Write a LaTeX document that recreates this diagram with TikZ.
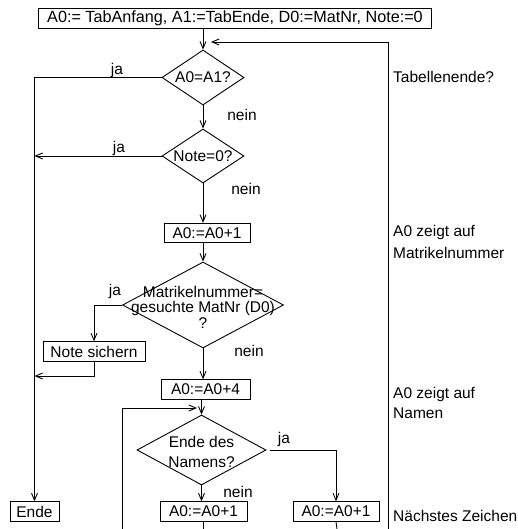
\documentclass[tikz,border=0pt]{standalone}
\usepackage{fontspec}
\setmainfont{Liberation Sans}
\usetikzlibrary{
  arrows.meta,
  calc,
  positioning,
  shapes.geometric,
}
\tikzstyle{flow} = [
  -{Straight Barb[length=7pt,width=6pt]},
  line width=0.9pt,
]
\tikzstyle{plain} = [line width=0.9pt]
\tikzstyle{stepbox} = [rectangle, draw, line width=0.9pt, inner sep=0pt, minimum height=19.5pt]
\tikzstyle{decision} = [diamond, draw, line width=0.9pt, inner sep=0pt]
\tikzstyle{answer} = [anchor=base, inner sep=0pt]
\tikzstyle{remark} = [anchor=base west, inner sep=0pt, align=left]

\begin{document}
\begin{tikzpicture}[x=1pt, y=-1pt]
  \tikzstyle{every node}=[font=\fontsize{15.5}{18}\selectfont]
  \useasboundingbox (0,0) rectangle (518,529);
  \node[stepbox, minimum width=393pt, minimum height=20pt, font=\fontsize{16.2}{18}\selectfont] (init) at (235,18) {A0:= TabAnfang, A1:=TabEnde, D0:=MatNr, Note:=0};
  \node[decision, minimum width=82pt, minimum height=55pt] (tabend) at (203,77.5) {};
  \node at (tabend) {A0=A1?};
  \node[decision, minimum width=82pt, minimum height=54pt] (notezero) at (203,156) {};
  \node at (notezero) {Note=0?};
  \node[stepbox, minimum width=86pt] (incone) at (207,233) {A0:=A0+1};
  \node[decision, minimum width=161pt, minimum height=86pt] (matnr) at (203,305) {};
  \node[align=center, font=\fontsize{15.5}{15.5}\selectfont] at ($(matnr)+(0,2)$) {Matrikelnummer=\\gesuchte MatNr (D0)\\?};
  \node[stepbox, minimum width=102pt] (save) at (94,351.5) {Note sichern};
  \node[stepbox, minimum width=89pt] (incfour) at (205.5,389.5) {A0:=A0+4};
  \node[decision, minimum width=129pt, minimum height=70pt] (nameend) at (201.5,450) {};
  \node[align=center, font=\fontsize{15.5}{20}\selectfont] at ($(nameend)+(0,2)$) {Ende des\\Namens?};
  \node[stepbox, minimum width=87pt] (nextleft) at (203.5,511.5) {A0:=A0+1};
  \node[stepbox, minimum width=86pt] (nextright) at (336,511.5) {A0:=A0+1};
  \node[stepbox, minimum width=49pt] (stop) at (34.5,511.5) {Ende};

  \node[remark] at (393,83) {Tabellenende?};
  \node[remark, font=\fontsize{15.5}{22}\selectfont] at (393,258) {A0 zeigt auf\\Matrikelnummer};
  \node[remark, font=\fontsize{15.5}{20}\selectfont] at (393,418) {A0 zeigt auf\\Namen};
  \node[remark] at (393,521) {Nächstes Zeichen};

  \coordinate (retbot) at (388,529);
  \coordinate (retjoin) at (211,42);
  \coordinate (loopbot) at (122,529);
  \coordinate (loopjoin) at (197,408);
  \coordinate (savejoin) at (94,376);
  \coordinate (leftbot) at (203.5,529);
  \coordinate (rightbot) at (337,529);

  \draw[flow] (init.south -| tabend.north) -- (tabend.north);
  \draw[flow] (retbot) |- (retjoin);
  \draw[flow] (tabend.west) -| (stop.north);
  \node[answer] at (117,75) {ja};
  \draw[flow] (tabend.south) -- (notezero.north);
  \node[answer] at (242,121) {nein};
  \draw[flow] (notezero.west) -- (notezero.west -| stop.north);
  \node[answer] at (119,153) {ja};
  \draw[flow] (notezero.south) -- (notezero.south |- incone.north);
  \node[answer] at (246,195) {nein};
  \draw[flow] (incone.south -| matnr.north) -- (matnr.north);
  \draw[flow] (matnr.west) -| (save.north);
  \node[answer] at (115,295) {ja};
  \draw[flow] (save.south) -- (savejoin) -- (savejoin -| stop.north);
  \draw[flow] (matnr.south) -- (matnr.south |- incfour.north);
  \node[answer] at (249,356) {nein};
  \draw[flow] (incfour.south -| nameend.north) -- (nameend.north);
  \draw[flow] (loopbot) |- (loopjoin);
  \draw[flow] ([xshift=4pt]nameend.east) -| (nextright.north);
  \node[answer] at (284,443) {ja};
  \draw[flow] (nameend.south) -- (nameend.south |- nextleft.north);
  \node[answer] at (238,497) {nein};
  \draw[plain] (nextleft.south) -- (leftbot);
  \draw[plain] (nextright.south) -- (rightbot);
\end{tikzpicture}
\end{document}
